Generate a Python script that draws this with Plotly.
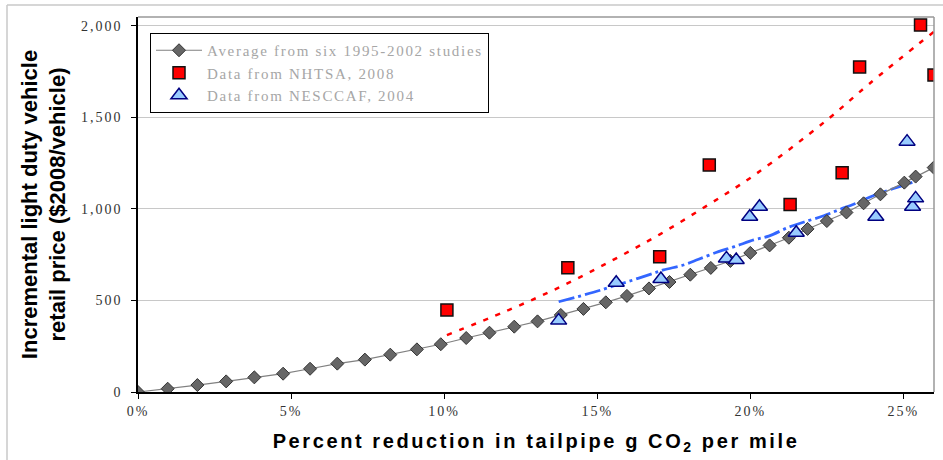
import plotly.graph_objects as go

# ---- data (x in percent reduction, y in $2008/vehicle) ----
avg_x = [0, 0.97, 1.94, 2.88, 3.80, 4.74, 5.62, 6.51, 7.41, 8.24, 9.11, 9.89,
         10.72, 11.48, 12.29, 13.05, 13.81, 14.55, 15.28, 15.97, 16.69, 17.36,
         18.04, 18.71, 19.35, 20.0, 20.63, 21.26, 21.87, 22.50, 23.14, 23.70,
         24.25, 25.03, 25.40, 25.99]
avg_y = [0, 18, 38, 58, 80, 100, 127, 155, 177, 204, 233, 261,
         295, 324, 357, 386, 421, 454, 490, 525, 566, 601,
         641, 678, 716, 760, 801, 843, 891, 934, 981, 1031,
         1080, 1144, 1177, 1226]

nhtsa_x = [10.09, 14.04, 17.04, 18.66, 21.3, 23.0, 23.57, 25.56, 26.0]
nhtsa_y = [448, 679, 739, 1240, 1025, 1198, 1776, 2005, 1732]

nesccaf_x = [13.74, 15.62, 17.08, 19.22, 19.54, 19.98, 20.3, 21.5, 24.1, 25.12, 25.3, 25.4]
nesccaf_y = [390, 597, 617, 730, 721, 958, 1012, 870, 958, 1368, 1012, 1058]

# trendlines
nhtsa_trend_x = [10.09, 12.0, 13.8, 15.5, 17.06, 18.6, 20.14, 22.5, 23.9, 26.0]
nhtsa_trend_y = [311, 440, 575, 720, 863, 1020, 1186, 1486, 1686, 1969]

nesccaf_trend_x = [13.74, 14.88, 15.53, 16.0, 16.73, 17.17, 17.82, 18.31, 18.96, 19.48,
                   20.11, 20.6, 21.25, 21.76, 22.4, 22.87, 23.49, 24.03, 24.68, 25.36]
nesccaf_trend_y = [493, 545, 579, 603, 643, 667, 694, 725, 767, 794,
                   831, 852, 900, 929, 963, 994, 1034, 1074, 1112, 1149]

x_tickvals = [0, 5, 10, 15, 20, 25]
x_ticktext = ["0%", "5%", "10%", "15%", "20%", "25%"]
y_tickvals = [0, 500, 1000, 1500, 2000]
y_ticktext = ["0", "500", "1,000", "1,500", "2,000"]

names = ["Average from six 1995-2002 studies", "Data from NHTSA, 2008", "Data from NESCCAF, 2004"]


def sp(t, s="letter-spacing:2px"):
    return f"<span style='{s}'>{t}</span>"


LEG = "letter-spacing:1.7px"

fig = go.Figure()

fig.add_trace(go.Scatter(
    x=nhtsa_trend_x, y=nhtsa_trend_y, mode="lines", line_shape="spline",
    line=dict(color="#ff0000", width=2.5, dash="5px,8px"), showlegend=False, hoverinfo="skip"))
fig.add_trace(go.Scatter(
    x=nesccaf_trend_x, y=nesccaf_trend_y, mode="lines", line_shape="spline",
    line=dict(color="#3366ff", width=2.8, dash="16px,4px,3px,4px"), showlegend=False, hoverinfo="skip"))

fig.add_trace(go.Scatter(
    x=avg_x, y=avg_y, mode="lines+markers", name=sp(names[0], LEG),
    line=dict(color="#808080", width=1.2),
    marker=dict(symbol="diamond", size=10, color="#666666", line=dict(color="#333333", width=1))))
fig.add_trace(go.Scatter(
    x=nhtsa_x, y=nhtsa_y, mode="markers", name=sp(names[1], LEG),
    marker=dict(symbol="square", size=12, color="#ff0000", line=dict(color="#111111", width=1.5))))
fig.add_trace(go.Scatter(
    x=nesccaf_x, y=nesccaf_y, mode="markers", name=sp(names[2], LEG),
    marker=dict(symbol="triangle-up", size=14, color="#99ccff", line=dict(color="#000080", width=1.5))))

L, R, T, B = 138, 9, 17, 68
W, H = 943, 460
pw, ph = W - L - R, H - T - B


def px(xp):
    return (xp - L) / pw


def py(yp):
    return (H - B - yp) / ph


fig.update_layout(
    width=W, height=H,
    margin=dict(l=L, r=R, t=T, b=B),
    paper_bgcolor="white", plot_bgcolor="white",
    font=dict(family="Liberation Serif", size=14, color="#333333"),
    xaxis=dict(
        range=[0, 26], tickvals=x_tickvals, ticktext=[sp(t) for t in x_ticktext],
        showgrid=False, zeroline=False, showline=True, linecolor="#000000", linewidth=1.5,
        ticks="outside", ticklen=5, tickcolor="#000000", tickwidth=1,
        tickfont=dict(family="Liberation Serif", size=14, color="#333333"),
        title=dict(text="<b>" + sp("Percent reduction in tailpipe g CO<sub>2</sub> per mile",
                                   "letter-spacing:2.6px") + "</b>",
                   font=dict(family="Liberation Sans", size=20, color="#000000"), standoff=16),
    ),
    yaxis=dict(
        range=[0, 2049], tickvals=y_tickvals, ticktext=[sp(t) for t in y_ticktext],
        showgrid=True, gridcolor="#c8c8c8", gridwidth=1, zeroline=False,
        showline=True, linecolor="#000000", linewidth=1.5,
        ticks="outside", ticklen=5, tickcolor="#000000", tickwidth=1,
        ticklabelstandoff=6,
        tickfont=dict(family="Liberation Serif", size=14, color="#333333"),
        title=dict(text="<b>Incremental light duty vehicle<br>retail price ($2008/vehicle)</b>",
                   font=dict(family="Liberation Sans", size=22, color="#000000"), standoff=9),
    ),
    legend=dict(
        x=px(150), y=py(33), xanchor="left", yanchor="top",
        bgcolor="white", bordercolor="#000000", borderwidth=1,
        font=dict(family="Liberation Serif", size=15, color="#a6a6a6"),
        tracegroupgap=0, itemwidth=46,
    ),
    shapes=[
        dict(type="line", xref="paper", yref="paper", x0=0, x1=1, y0=1, y1=1,
             line=dict(color="#999999", width=1.5)),
        dict(type="line", xref="paper", yref="paper", x0=1, x1=1, y0=0, y1=1,
             line=dict(color="#999999", width=1.5)),
        dict(type="line", xref="paper", yref="paper", x0=px(7), x1=px(943), y0=py(5), y1=py(5),
             line=dict(color="#c8c8c8", width=1.5)),
        dict(type="line", xref="paper", yref="paper", x0=px(7), x1=px(7), y0=py(5), y1=py(460),
             line=dict(color="#c8c8c8", width=1.5)),
    ],
)

fig.write_html("out.html", config={"displayModeBar": False},
               post_script="document.body.style.margin='0';document.body.style.overflow='hidden';")
